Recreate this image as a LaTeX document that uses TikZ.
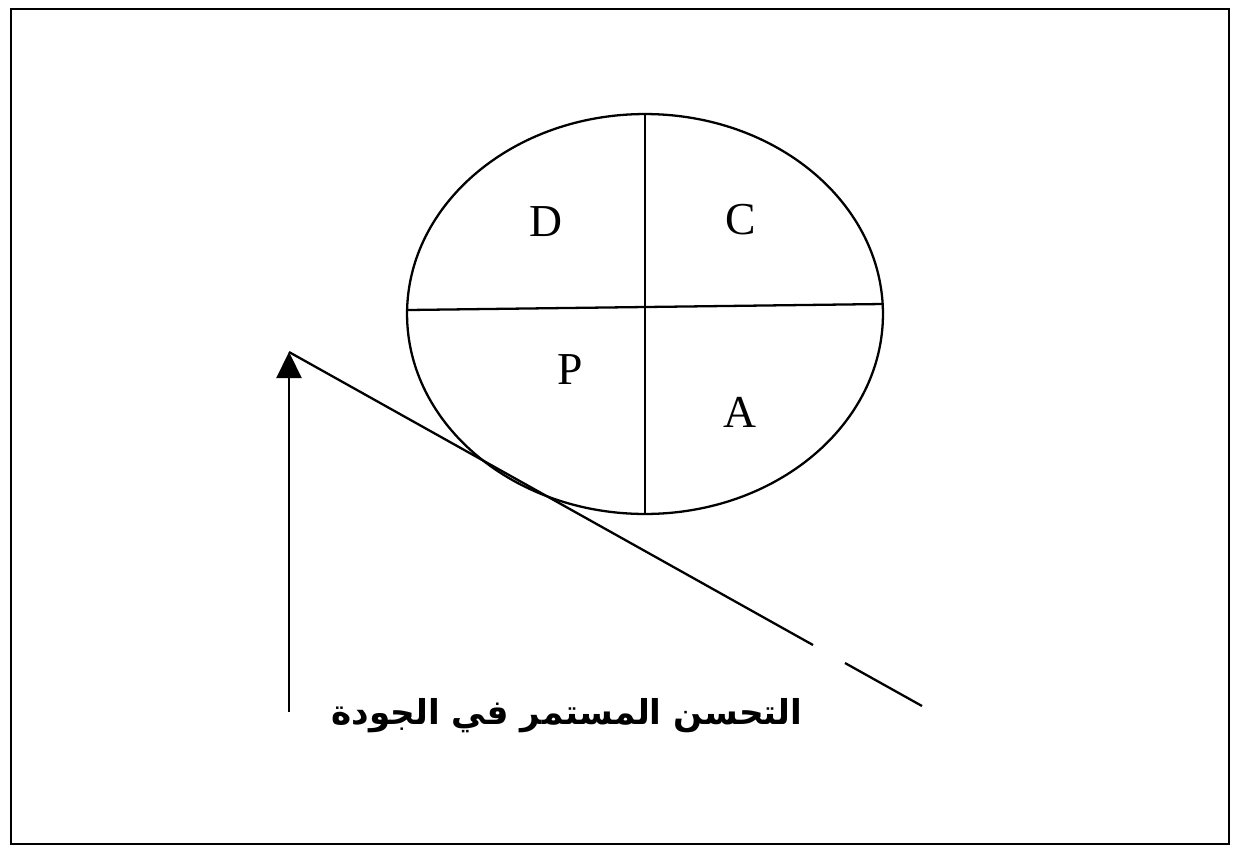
\documentclass[tikz,border=0pt]{standalone}
\usepackage{fontspec}
\setmainfont{Liberation Serif}
\newfontfamily\arabicfont[Script=Arabic]{DejaVu Sans}
\TeXXeTstate=1
\usetikzlibrary{arrows.meta,shapes.geometric}

\begin{document}
\begin{tikzpicture}[
  x=0.02cm, y=-0.02cm,
  frame/.style={line width=1.5pt},
  ln/.style={line width=1.3pt},
  arr/.style={-{Triangle[length=0.52cm,width=0.5cm]}, line width=1.3pt},
  cycle/.style={ellipse, draw, line width=1.3pt, minimum width=9.52cm, minimum height=8cm, inner sep=0pt},
  letter/.style={font=\fontsize{26}{30}\selectfont},
  caption/.style={font=\arabicfont\bfseries\fontsize{19.5}{24}\selectfont}
]
  \useasboundingbox (0,0) rectangle (1233,849);
  \draw[frame] (11,9) rectangle (1229,844);

  % PDCA wheel
  \node[cycle] (wheel) at (645,314) {};
  \coordinate (wl) at (408,310);
  \coordinate (wr) at (883,304);
  \draw[ln] (wl) -- (wr);
  \draw[ln] (wheel.north) -- (wheel.south);
  \node[letter] (d) at (546,222) {D};
  \node[letter] (c) at (741,220) {C};
  \node[letter] (p) at (570,370) {P};
  \node[letter] (a) at (740,412) {A};

  % slope and arrow
  \coordinate (apex) at (289,352);
  \coordinate (base) at (289,712);
  \coordinate (gapa) at (813,645);
  \coordinate (gapb) at (845,663);
  \coordinate (slopeend) at (922,706);
  \draw[ln] (apex) -- (gapa);
  \draw[ln] (gapb) -- (slopeend);
  \draw[arr] (base) -- (apex);

  \node[caption] (label) at (567,716) {\beginR التحسن المستمر في الجودة\endR};
\end{tikzpicture}
\end{document}
